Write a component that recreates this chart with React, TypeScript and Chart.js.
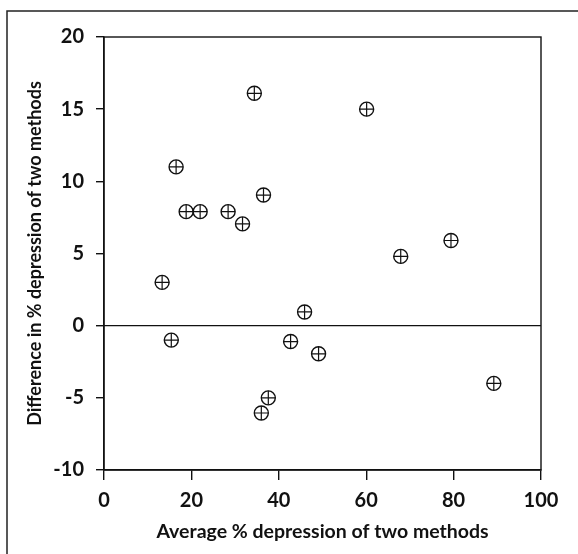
import React, { useEffect, useRef } from "react";
import { Chart, registerables } from "chart.js";

Chart.register(...registerables);

const averagePct = [13.3, 15.4, 16.5, 18.8, 22.0, 28.4, 31.7, 34.4, 36.5, 36.0, 37.6, 42.7, 45.9, 49.1, 60.1, 67.9, 79.4, 89.2];
const differencePct = [3, -1, 11, 7.9, 7.9, 7.9, 7.05, 16.1, 9.05, -6.05, -5, -1.1, 0.95, -1.95, 15, 4.8, 5.9, -4];
const zeroLineX = [0, 100];
const zeroLineY = [0, 0];

const FONT = "Lato, 'Open Sans', sans-serif";

const framePlugin = {
  id: "frame",
  beforeDraw(chart: any) {
    const { ctx, width, height } = chart;
    ctx.save();
    ctx.fillStyle = "#fff";
    ctx.fillRect(0, 0, width, height);
    ctx.strokeStyle = "#222";
    ctx.lineWidth = 1.5;
    ctx.beginPath();
    ctx.moveTo(7, height);
    ctx.lineTo(7, 11);
    ctx.lineTo(width, 11);
    ctx.stroke();
    ctx.restore();
  },
  beforeDatasetsDraw(chart: any) {
    const { ctx, chartArea } = chart;
    ctx.save();
    ctx.strokeStyle = "#111";
    ctx.lineWidth = 1.4;
    ctx.strokeRect(chartArea.left, chartArea.top, chartArea.right - chartArea.left, chartArea.bottom - chartArea.top);
    ctx.restore();
  },
};

export default function App() {
  const ref = useRef<HTMLCanvasElement | null>(null);
  useEffect(() => {
    if (!ref.current) return;
    const points = averagePct.map((x, i) => ({ x, y: differencePct[i] }));
    const chart = new Chart(ref.current, {
      type: "scatter",
      data: {
        datasets: [
          {
            label: "zero",
            data: zeroLineX.map((x, i) => ({ x, y: zeroLineY[i] })),
            showLine: true,
            borderColor: "#111",
            borderWidth: 1.4,
            pointRadius: 0,
          },
          {
            label: "cross",
            data: points,
            pointStyle: "cross",
            pointRadius: 7,
            pointBorderWidth: 1.2,
            pointBorderColor: "#111",
            pointBackgroundColor: "#111",
          },
          {
            label: "circle",
            data: points,
            pointStyle: "circle",
            pointRadius: 7,
            pointBorderWidth: 1.4,
            pointBorderColor: "#111",
            pointBackgroundColor: "rgba(255,255,255,0)",
          },
        ],
      },
      plugins: [framePlugin],
      options: {
        responsive: false,
        animation: false,
        layout: { padding: { left: 0, top: 37, right: 37, bottom: 0 } },
        plugins: { legend: { display: false }, tooltip: { enabled: false } },
        scales: {
          x: {
            type: "linear",
            min: 0,
            max: 100,
            afterFit: (s: any) => { s.height = 84; },
            ticks: { stepSize: 20, color: "#111", padding: 9, font: { family: FONT, size: 20, weight: "bold" } },
            grid: { drawOnChartArea: false, drawTicks: true, tickLength: 10, color: "#111", lineWidth: 1.4 },
            border: { display: true, color: "#111", width: 1.4 },
            title: {
              display: true,
              text: "Average % depression of two methods",
              color: "#111",
              font: { family: FONT, size: 19.5, weight: "bold" },
              padding: { top: 0, bottom: 11 },
            },
          },
          y: {
            type: "linear",
            min: -10,
            max: 20,
            afterFit: (s: any) => { s.width = 104; },
            ticks: { stepSize: 5, color: "#111", padding: 12, font: { family: FONT, size: 20, weight: "bold" } },
            grid: { drawOnChartArea: false, drawTicks: true, tickLength: 8, color: "#111", lineWidth: 1.4 },
            border: { display: true, color: "#111", width: 1.4 },
            title: {
              display: true,
              text: "Difference in % depression of two methods",
              color: "#111",
              font: { family: FONT, size: 18, weight: "bold" },
              padding: { top: 24, bottom: 0 },
            },
          },
        },
      },
    });
    return () => chart.destroy();
  }, []);
  return (
    <div style={{ position: "absolute", left: 0, top: 0, width: 578, height: 554 }}>
      <canvas ref={ref} width={578} height={554} />
    </div>
  );
}
